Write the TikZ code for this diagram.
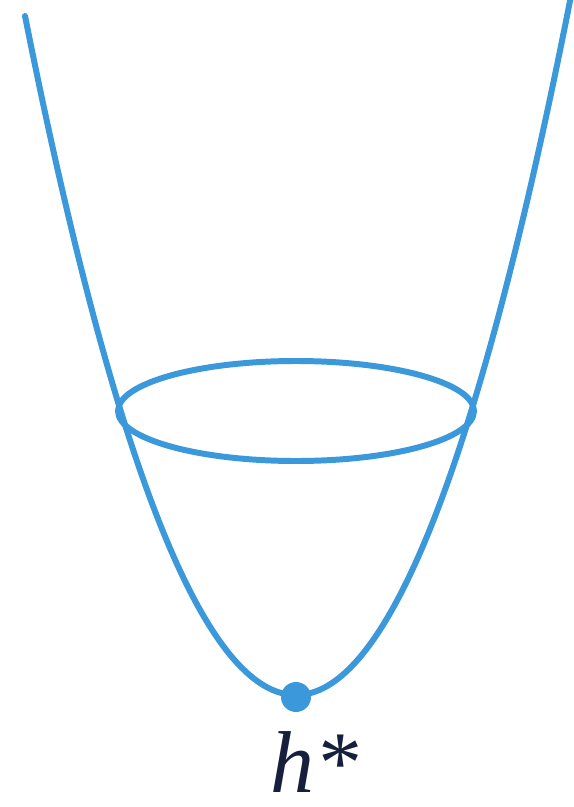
\documentclass[tikz,border=0pt]{standalone}
\usepackage{fontspec}
\setmainfont{Liberation Serif}
\usepackage{tikz}
\usetikzlibrary{positioning}
\definecolor{bowlblue}{RGB}{58,152,219}
\definecolor{labelnavy}{RGB}{22,32,60}
\tikzset{bowl/.style={draw=bowlblue,line width=3.4pt,line cap=round}}

\begin{document}
\begin{tikzpicture}[x=0.02cm,y=-0.02cm]
  \useasboundingbox (0,0) rectangle (574,807);
  \begin{scope}
    \clip (0,0) rectangle (574,807);
    \draw[bowl] plot[domain=-271:282,samples=120,smooth] ({296+\x},{695-(\x/10.4)^2});
  \end{scope}
  \draw[bowl] (296,411) ellipse[x radius=178,y radius=50];
  \node[circle,fill=bowlblue,inner sep=0pt,minimum size=0.6cm] (opt) at (296,697) {};
  \node[anchor=base,text=labelnavy,font=\fontsize{50}{56}\selectfont\itshape,inner sep=0pt] (lbl) at (314,792) {h*};
\end{tikzpicture}
\end{document}
